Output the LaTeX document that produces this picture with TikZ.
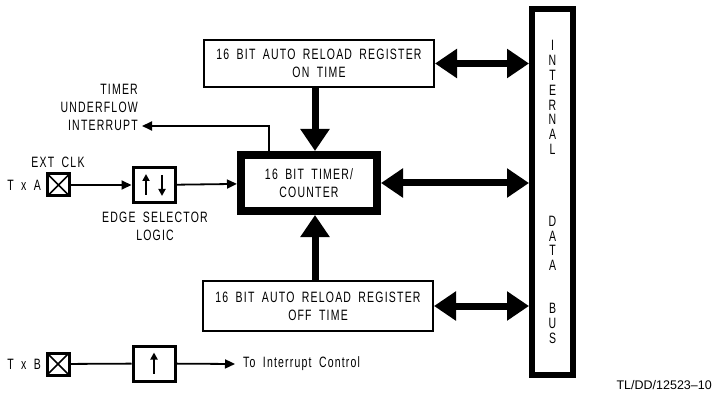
\documentclass[tikz,border=0pt]{standalone}
\usepackage{fontspec}
\usetikzlibrary{arrows.meta}
\newfontfamily\plotfont{Liberation Sans}[FakeStretch=0.7,LetterSpace=8,WordSpace=1.8]
\newfontfamily\notefont{Liberation Sans}

\tikzset{
  lbl/.style={font=\plotfont\fontsize{15}{18}\selectfont, inner sep=0pt, align=center},
  regbox/.style={lbl, draw, line width=2pt, minimum width=230pt, minimum height=47pt},
  pinbox/.style={draw, line width=3pt, minimum size=22pt, inner sep=0pt,
    path picture={\draw[line width=1.5pt] (path picture bounding box.south west) -- (path picture bounding box.north east)
      (path picture bounding box.north west) -- (path picture bounding box.south east);}},
  edgebox/.style={draw, line width=3pt, minimum width=42pt, minimum height=35pt},
  wire/.style={line width=1.8pt},
  thin/.style={wire, -{Triangle[length=10pt,width=9pt]}},
  tick/.style={wire, -{Triangle[length=7pt,width=7pt]}},
  fat/.style={line width=7pt, {Triangle[length=22pt,width=28pt]}-{Triangle[length=22pt,width=28pt]}},
  fatone/.style={line width=7pt, -{Triangle[length=22pt,width=28pt]}},
}

\begin{document}
\begin{tikzpicture}[x=1pt, y=-1pt]
        \useasboundingbox (0,0) rectangle (717,398);

        % Nodes
        \node[regbox] at (319, 63.5) (regon) {16 BIT AUTO RELOAD REGISTER\\ON TIME};
        \node[lbl, draw, line width=8pt, minimum width=136pt, minimum height=56pt] at (309, 183) (timer) {16 BIT TIMER/\\COUNTER};
        \node[regbox, minimum height=50pt] at (318, 306) (regoff) {16 BIT AUTO RELOAD REGISTER\\OFF TIME};
        \node[lbl, font=\plotfont\fontsize{15}{14.8}\selectfont, draw, line width=6pt, minimum width=41pt, minimum height=366pt] at (552.5, 192) (bus)
            {I\\N\\T\\E\\R\\N\\A\\L\\[57pt]D\\A\\T\\A\\[28pt]B\\U\\S};

        \node[lbl, align=right, anchor=east] at (138, 107) (uflow) {TIMER\\UNDERFLOW\\INTERRUPT};
        \coordinate (ufl) at (142, 126);

        \node[pinbox] at (58.5, 185) (txa) {};
        \node[lbl, anchor=east] at (41, 185) (txalbl) {T x A};
        \node[lbl] at (58, 162) (extclk) {EXT CLK};
        \node[edgebox] at (154, 185) (edge) {};
        \node[lbl] at (155, 226) (edgelbl) {EDGE SELECTOR\\LOGIC};

        \node[pinbox] at (58, 364) (txb) {};
        \node[lbl, anchor=east] at (41, 364) (txblbl) {T x B};
        \node[edgebox] at (154, 363.5) (rise) {};
        \node[lbl, anchor=west] at (243, 364) (intctl) {To Interrupt Control};

        \node[font=\notefont\fontsize{12.5}{14}\selectfont, anchor=east, inner sep=0pt] at (712, 385) (tlno) {TL/DD/12523\textendash10};

        % Signals
        \draw[thin]  (txa) -- (edge);
        \draw[thin]  (edge) -- (timer);
        \draw[wire]  (txb) -- (rise);
        \draw[thin]  (rise) -- ([xshift=-8pt]intctl.west);
        \draw[thin]  ([xshift=32pt]timer.north west) |- (ufl);

        \draw[tick] ([xshift=-8pt]edge.center) ++(0, 10) -- ++(0, -21);
        \draw[tick] ([xshift=8pt]edge.center) ++(0, -10) -- ++(0, 21);
        \draw[tick] (rise.center) ++(0, 10) -- ++(0, -21);

        % Bus connections
        \draw[fat]  (regon) -- (regon -| bus.west);
        \draw[fat]  (timer) -- (timer -| bus.west);
        \draw[fat]  (regoff) -- (regoff -| bus.west);
        \draw[fatone]  ([xshift=6pt]timer.north |- regon.south) -- ([xshift=6pt]timer.north);
        \draw[fatone]  ([xshift=6pt]timer.south |- regoff.north) -- ([xshift=6pt]timer.south);

    \end{tikzpicture}
\end{document}
